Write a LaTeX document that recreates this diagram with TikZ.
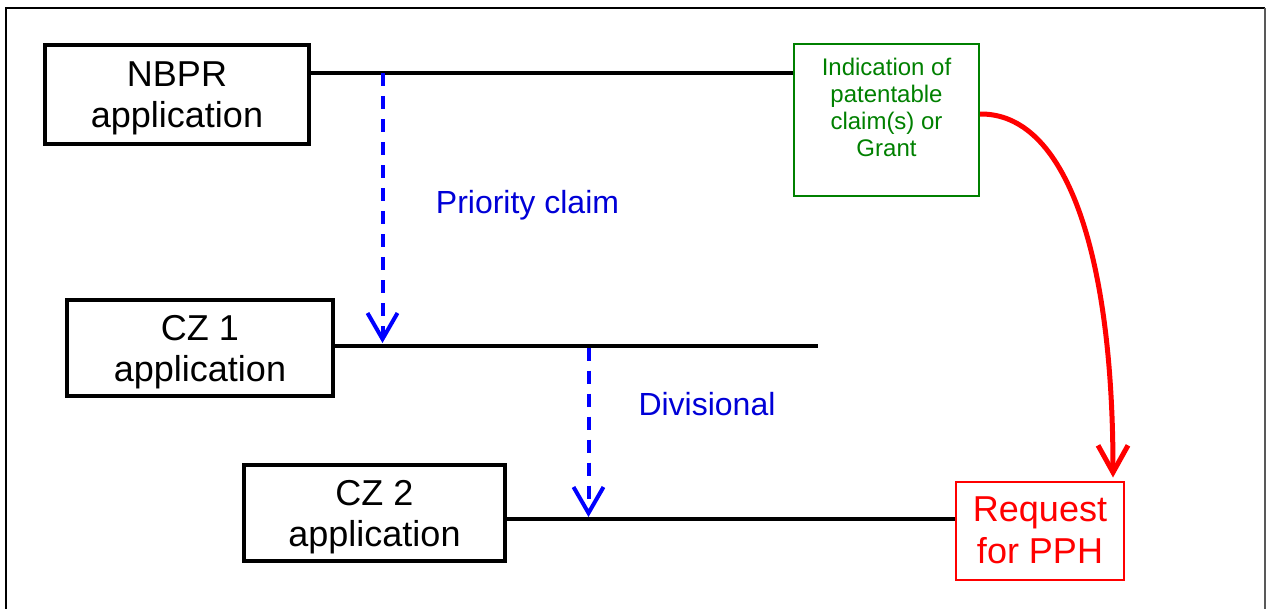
\documentclass[tikz,border=0pt]{standalone}
\usepackage{fontspec}
\setmainfont{Liberation Sans}
\usetikzlibrary{arrows.meta}
\definecolor{grn}{RGB}{0,128,0}
\definecolor{blu}{RGB}{0,0,255}
\definecolor{blutxt}{RGB}{0,0,215}
\definecolor{rd}{RGB}{255,0,0}
\newcommand{\topstrut}{\rule{0pt}{33pt}}
\begin{document}
\begin{tikzpicture}[x=1pt,y=-1pt,
  appbox/.style={draw=black, line width=4pt, inner sep=0pt, align=center,
    font=\fontsize{36}{41}\selectfont},
  timeline/.style={draw=black, line width=4pt},
  bluedash/.style={draw=blu, line width=4pt, dash pattern=on 13pt off 10pt,
    -{Straight Barb[length=26pt,width=30pt]}},
  bluelabel/.style={text=blutxt, inner sep=0pt, anchor=base, font=\fontsize{32}{36}\selectfont},
  greenbox/.style={draw=grn, line width=2pt, inner sep=0pt},
  greentext/.style={text=grn, align=center, inner sep=0pt, font=\fontsize{24}{27}\selectfont},
  redbox/.style={draw=rd, text=rd, line width=2pt, inner sep=0pt, align=center,
    font=\fontsize{36}{42}\selectfont},
  redarrow/.style={draw=rd, line width=5pt, -{Straight Barb[length=27pt,width=30pt]}}]
\useasboundingbox (0,0) rectangle (1266,608);
% frame
\draw[line width=2.5pt] (6,620) -- (6,8) -- (1265,8);
\draw[line width=1.5pt, black!65] (1265,8) -- (1265,620);
% boxes
\node (nbpr) [appbox, minimum width=264pt, minimum height=99pt] at (177,94.5) {\topstrut NBPR\\application};
\node (cz1) [appbox, minimum width=266pt, minimum height=96pt] at (200,348.3) {\topstrut CZ 1\\application};
\node (cz2) [appbox, minimum width=261pt, minimum height=96pt] at (374.5,513) {\topstrut CZ 2\\application};
\node (gbox) [greenbox, minimum width=185pt, minimum height=152pt] at (886.5,120) {};
\node (gtext) [greentext, anchor=north] at ([yshift=-15pt]gbox.north) {Indication of\\patentable\\claim(s) or\\Grant};
\node (req) [redbox, minimum width=168pt, minimum height=98pt] at (1040,530.5) {Request\\for PPH};
% coordinates on the time lines
\coordinate (y1) at (0,73);
\coordinate (y2) at (0,345.5);
\coordinate (y3) at (0,519);
\coordinate (cz1end) at (818,345.5);
\coordinate (pa) at (382.5,73);
\coordinate (pb) at (382.5,343);
\coordinate (da) at (588.5,347.5);
\coordinate (db) at (588.5,517);
% time lines
\draw[timeline] (nbpr.east |- y1) -- (gbox.west |- y1);
\draw[timeline] (cz1.east |- y2) -- (cz1end);
\draw[timeline] (cz2.east |- y3) -- (req.west |- y3);
% priority and divisional
\draw[bluedash] (pa) -- (pb);
\draw[bluedash] (da) -- (db);
\node (prio) [bluelabel] at (527.5,213) {Priority claim};
\node (divi) [bluelabel] at (707,415) {Divisional};
% PPH arrow
\draw[redarrow] ([yshift=6pt]gbox.east) .. controls (1065,113) and (1113,250) .. ([xshift=73pt,yshift=3pt]req.north);
\end{tikzpicture}
\end{document}
